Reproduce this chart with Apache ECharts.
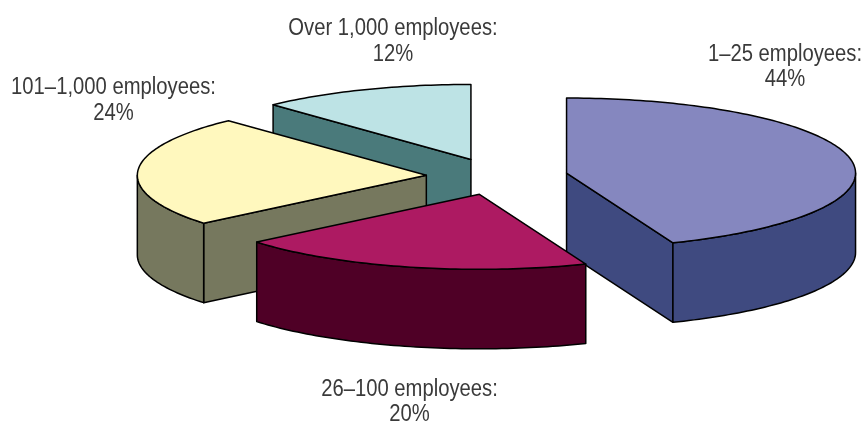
<!DOCTYPE html>
<html><head><meta charset="utf-8">
<style>html,body{margin:0;padding:0;background:#fff}#c{width:864px;height:423px}</style>
<script src="https://cdn.jsdelivr.net/npm/echarts@6/dist/echarts.min.js"></script>
</head><body><div id="c"></div>
<script>
const categories = ['1–25 employees', '26–100 employees', '101–1,000 employees', 'Over 1,000 employees'];
const values = [44, 20, 24, 12];
const topColors = ['#8587BF', '#AD1A62', '#FFF8BE', '#BDE3E5'];
const sideColors = ['#3F4A80', '#4F0026', '#76785E', '#4A7A7B'];
const labelAnchors = [[785, 67], [409.5, 402], [113.5, 100.5], [393, 41.5]];
const drawOrder = [3, 2, 0, 1];

const cx = 497, cy = 176.5, rx = 289, ry = 75, depth = 79.5, explode = 0.245;
const FONT = '"Liberation Sans",sans-serif';

const total = values.reduce((a, b) => a + b, 0);
let acc = 0;
const slices = values.map((v, i) => {
  const a0 = acc / total * 2 * Math.PI;
  acc += v;
  const a1 = acc / total * 2 * Math.PI;
  const m = (a0 + a1) / 2;
  return { i, a0, a1, ax: cx + explode * rx * Math.sin(m), ay: cy - explode * ry * Math.cos(m) };
});
function pt(s, a, dz) { return [s.ax + rx * Math.sin(a), s.ay - ry * Math.cos(a) + (dz || 0)]; }
function arc(s, a0, a1, dz) {
  const n = Math.max(2, Math.ceil((a1 - a0) / 0.02)), out = [];
  for (let k = 0; k <= n; k++) out.push(pt(s, a0 + (a1 - a0) * k / n, dz));
  return out;
}
const edge = { stroke: '#000', lineWidth: 1.5, lineJoin: 'round' };
function poly(points, fill) {
  return { type: 'polygon', shape: { points }, style: Object.assign({ fill }, edge) };
}
function renderItem(params) {
  const s = slices[drawOrder[params.dataIndex]];
  const side = sideColors[s.i], top = topColors[s.i];
  const children = [], apex = [s.ax, s.ay], apexB = [s.ax, s.ay + depth];
  if (Math.sin(s.a0) < -1e-6) children.push(poly([apex, pt(s, s.a0), pt(s, s.a0, depth), apexB], side));
  if (Math.sin(s.a1) > 1e-6) children.push(poly([apex, pt(s, s.a1), pt(s, s.a1, depth), apexB], side));
  const lo = Math.max(s.a0, Math.PI / 2), hi = Math.min(s.a1, 1.5 * Math.PI);
  if (hi > lo) children.push(poly(arc(s, lo, hi, 0).concat(arc(s, lo, hi, depth).reverse()), side));
  children.push(poly([apex].concat(arc(s, s.a0, s.a1, 0)), top));
  return { type: 'group', children };
}
const chart = echarts.init(document.getElementById('c'), null, { renderer: 'canvas' });
chart.setOption({
  animation: false,
  backgroundColor: '#fff',
  graphic: values.map((v, i) => ({
    type: 'text', x: labelAnchors[i][0], y: labelAnchors[i][1], z: 10, scaleX: 0.88,
    style: {
      text: categories[i] + ':\n' + v + '%', font: '23px ' + FONT, fill: '#3a3a3a',
      textAlign: 'center', textVerticalAlign: 'middle', lineHeight: 25.5
    }
  })),
  series: [{
    type: 'custom', coordinateSystem: 'none', silent: true,
    data: drawOrder.map(i => values[i]),
    renderItem
  }]
});
</script></body></html>
